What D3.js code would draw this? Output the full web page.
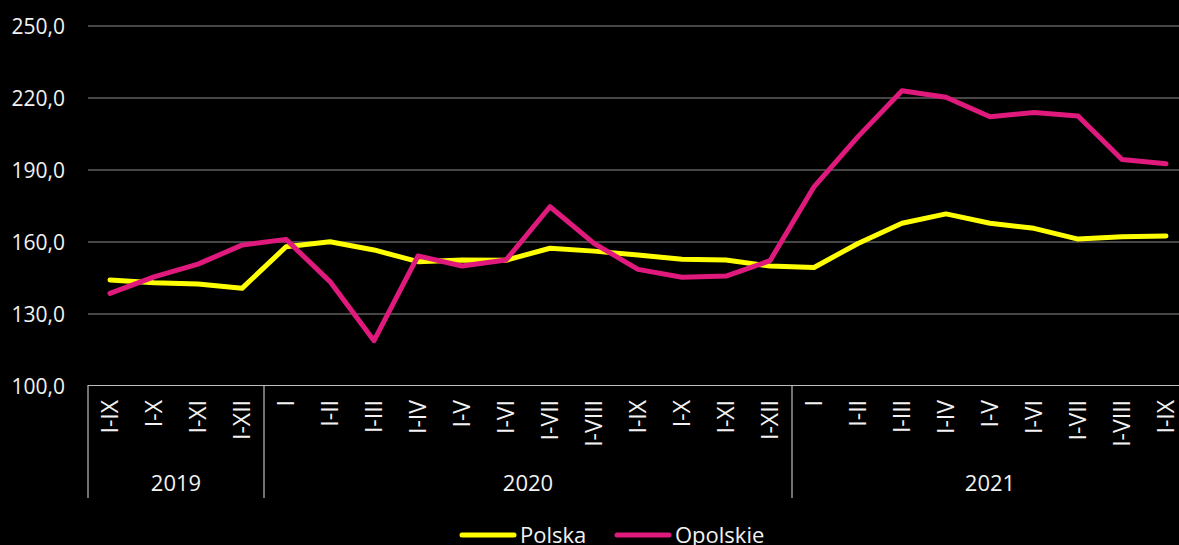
<!DOCTYPE html>
<html><head><meta charset="utf-8">
<script src="https://cdn.jsdelivr.net/npm/d3@7"></script>
<style>html,body{margin:0;padding:0;background:#000;overflow:hidden}</style>
</head><body><svg id="c" width="1179" height="545"></svg>
<script>
const periods = ["I-IX","I-X","I-XI","I-XII",
  "I","I-II","I-III","I-IV","I-V","I-VI","I-VII","I-VIII","I-IX","I-X","I-XI","I-XII",
  "I","I-II","I-III","I-IV","I-V","I-VI","I-VII","I-VIII","I-IX"];
const years = ["2019","2020","2021"];
const yearCounts = [4,12,9];
const polska = [144.2,143.0,142.5,140.7,158.0,160.1,156.7,151.8,152.5,152.4,157.4,156.2,154.6,152.8,152.5,150.0,149.4,159.4,167.8,171.7,167.8,165.7,161.2,162.2,162.5];
const opolskie = [138.6,145.5,150.8,158.7,161.1,143.5,118.9,154.2,150.0,152.5,174.7,159.4,148.6,145.3,145.8,152.2,183.0,203.9,223.0,220.3,212.2,214.0,212.5,194.4,192.6];
const yTicks = [100,130,160,190,220,250];
const seriesNames = ["Polska","Opolskie"];
const colors = ["#ffff00","#e0197d"];

(function(){
const svg = d3.select("#c");
const mLeft = 88, mRight = 1188, mTop = 26, mBottom = 386;
const idx = d3.range(periods.length);
const x = d3.scaleBand().domain(idx).range([mLeft, mRight]).padding(0);
const y = d3.scaleLinear().domain([100,250]).range([mBottom, mTop]);
const fmt = v => d3.format(".1f")(v).replace(".", ",");

svg.append("g").selectAll("line").data(yTicks.filter(t=>t>100)).join("line")
  .attr("x1", mLeft).attr("x2", 1179).attr("y1", d=>y(d)).attr("y2", d=>y(d))
  .attr("stroke", "#8c8c8c").attr("stroke-width", 1.2);

svg.append("g").selectAll("text").data(yTicks).join("text")
  .attr("x", 65).attr("y", d=>y(d)).attr("dy","0.36em")
  .attr("text-anchor","end").attr("fill","#f2f2f2")
  .style("font-family","'Open Sans'").style("font-size","21px")
  .text(fmt);

svg.append("line").attr("x1", mLeft).attr("x2", 1179).attr("y1", y(100)-0.5).attr("y2", y(100)-0.5)
  .attr("stroke","#bfbfbf").attr("stroke-width",1.2);

const cum = [0];
yearCounts.forEach(c=>cum.push(cum[cum.length-1]+c));
const bx = d => d<periods.length ? x(d) : mRight;
svg.append("g").selectAll("line").data(cum).join("line")
  .attr("x1", bx).attr("x2", bx)
  .attr("y1", y(100)-1).attr("y2", 498)
  .attr("stroke","#bfbfbf").attr("stroke-width",1.2);

svg.append("g").selectAll("text").data(idx).join("text")
  .attr("transform", d=>`translate(${x(d)+x.bandwidth()/2},400) rotate(-90)`)
  .attr("text-anchor","end").attr("dy","0.36em").attr("fill","#f2f2f2")
  .style("font-family","'Open Sans'").style("font-size","23px")
  .text(d=>periods[d]);

svg.append("g").selectAll("text").data(years).join("text")
  .attr("x", (d,i)=> (bx(cum[i]) + bx(cum[i+1]))/2)
  .attr("y", 491).attr("text-anchor","middle").attr("fill","#f2f2f2")
  .style("font-family","'Open Sans'").style("font-size","22px")
  .text(d=>d);

const line = d3.line().x((d,i)=>x(i)+x.bandwidth()/2).y(d=>y(d));
[polska, opolskie].forEach((s,k)=>{
  svg.append("path").datum(s).attr("d", line).attr("fill","none")
    .attr("stroke", colors[k]).attr("stroke-width",5)
    .attr("stroke-linejoin","round").attr("stroke-linecap","round");
});

const lg = [{x:462, tx:520},{x:617, tx:675}];
seriesNames.forEach((n,k)=>{
  svg.append("line").attr("x1", lg[k].x).attr("x2", lg[k].x+52).attr("y1",535).attr("y2",535)
    .attr("stroke", colors[k]).attr("stroke-width",5).attr("stroke-linecap","round");
  svg.append("text").attr("x", lg[k].tx).attr("y", 542.5).attr("fill","#f2f2f2")
    .style("font-family","'Open Sans'").style("font-size","22px").text(n);
});
})();
</script></body></html>
